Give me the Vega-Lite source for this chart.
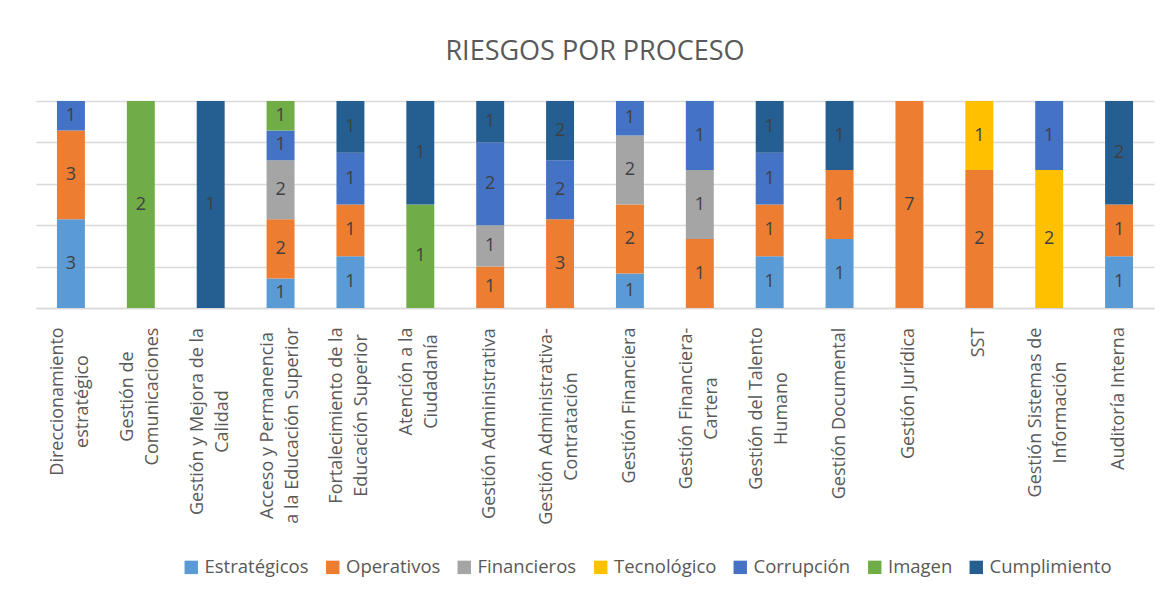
{
  "$schema": "https://vega.github.io/schema/vega-lite/v6.json",
  "width": 1118,
  "height": 207,
  "autosize": {"type": "none"},
  "padding": {"left": 36, "top": 101, "right": 18, "bottom": 290},
  "background": "white",
  "title": {
    "text": "RIESGOS POR PROCESO",
    "font": "Open Sans",
    "fontSize": 27,
    "fontWeight": "normal",
    "color": "#595959",
    "anchor": "middle",
    "offset": 35
  },
  "data": {
    "values": [
      {"proceso": "Direccionamiento estratégico", "tipo": "Estratégicos", "n": 3},
      {"proceso": "Direccionamiento estratégico", "tipo": "Operativos", "n": 3},
      {"proceso": "Direccionamiento estratégico", "tipo": "Corrupción", "n": 1},
      {"proceso": "Gestión de Comunicaciones", "tipo": "Imagen", "n": 2},
      {"proceso": "Gestión y Mejora de la Calidad", "tipo": "Cumplimiento", "n": 1},
      {"proceso": "Acceso y Permanencia a la Educación Superior", "tipo": "Estratégicos", "n": 1},
      {"proceso": "Acceso y Permanencia a la Educación Superior", "tipo": "Operativos", "n": 2},
      {"proceso": "Acceso y Permanencia a la Educación Superior", "tipo": "Financieros", "n": 2},
      {"proceso": "Acceso y Permanencia a la Educación Superior", "tipo": "Corrupción", "n": 1},
      {"proceso": "Acceso y Permanencia a la Educación Superior", "tipo": "Imagen", "n": 1},
      {"proceso": "Fortalecimiento de la Educación Superior", "tipo": "Estratégicos", "n": 1},
      {"proceso": "Fortalecimiento de la Educación Superior", "tipo": "Operativos", "n": 1},
      {"proceso": "Fortalecimiento de la Educación Superior", "tipo": "Corrupción", "n": 1},
      {"proceso": "Fortalecimiento de la Educación Superior", "tipo": "Cumplimiento", "n": 1},
      {"proceso": "Atención a la Ciudadanía", "tipo": "Imagen", "n": 1},
      {"proceso": "Atención a la Ciudadanía", "tipo": "Cumplimiento", "n": 1},
      {"proceso": "Gestión Administrativa", "tipo": "Operativos", "n": 1},
      {"proceso": "Gestión Administrativa", "tipo": "Financieros", "n": 1},
      {"proceso": "Gestión Administrativa", "tipo": "Corrupción", "n": 2},
      {"proceso": "Gestión Administrativa", "tipo": "Cumplimiento", "n": 1},
      {"proceso": "Gestión Administrativa-Contratación", "tipo": "Operativos", "n": 3},
      {"proceso": "Gestión Administrativa-Contratación", "tipo": "Corrupción", "n": 2},
      {"proceso": "Gestión Administrativa-Contratación", "tipo": "Cumplimiento", "n": 2},
      {"proceso": "Gestión Financiera", "tipo": "Estratégicos", "n": 1},
      {"proceso": "Gestión Financiera", "tipo": "Operativos", "n": 2},
      {"proceso": "Gestión Financiera", "tipo": "Financieros", "n": 2},
      {"proceso": "Gestión Financiera", "tipo": "Corrupción", "n": 1},
      {"proceso": "Gestión Financiera-Cartera", "tipo": "Operativos", "n": 1},
      {"proceso": "Gestión Financiera-Cartera", "tipo": "Financieros", "n": 1},
      {"proceso": "Gestión Financiera-Cartera", "tipo": "Corrupción", "n": 1},
      {"proceso": "Gestión del Talento Humano", "tipo": "Estratégicos", "n": 1},
      {"proceso": "Gestión del Talento Humano", "tipo": "Operativos", "n": 1},
      {"proceso": "Gestión del Talento Humano", "tipo": "Corrupción", "n": 1},
      {"proceso": "Gestión del Talento Humano", "tipo": "Cumplimiento", "n": 1},
      {"proceso": "Gestión Documental", "tipo": "Estratégicos", "n": 1},
      {"proceso": "Gestión Documental", "tipo": "Operativos", "n": 1},
      {"proceso": "Gestión Documental", "tipo": "Cumplimiento", "n": 1},
      {"proceso": "Gestión Jurídica", "tipo": "Operativos", "n": 7},
      {"proceso": "SST", "tipo": "Operativos", "n": 2},
      {"proceso": "SST", "tipo": "Tecnológico", "n": 1},
      {"proceso": "Gestión Sistemas de Información", "tipo": "Tecnológico", "n": 2},
      {"proceso": "Gestión Sistemas de Información", "tipo": "Corrupción", "n": 1},
      {"proceso": "Auditoría Interna", "tipo": "Estratégicos", "n": 1},
      {"proceso": "Auditoría Interna", "tipo": "Operativos", "n": 1},
      {"proceso": "Auditoría Interna", "tipo": "Cumplimiento", "n": 2}
    ]
  },
  "transform": [
    {"calculate": "indexof(['Estratégicos','Operativos','Financieros','Tecnológico','Corrupción','Imagen','Cumplimiento'], datum.tipo)", "as": "orden"},
    {"stack": "n", "groupby": ["proceso"], "sort": [{"field": "orden", "order": "ascending"}], "offset": "normalize", "as": ["y0", "y1"]},
    {"calculate": "(datum.y0 + datum.y1) / 2", "as": "ymid"}
  ],
  "encoding": {
    "x": {
      "field": "proceso",
      "type": "nominal",
      "sort": ["Direccionamiento estratégico", "Gestión de Comunicaciones", "Gestión y Mejora de la Calidad", "Acceso y Permanencia a la Educación Superior", "Fortalecimiento de la Educación Superior", "Atención a la Ciudadanía", "Gestión Administrativa", "Gestión Administrativa-Contratación", "Gestión Financiera", "Gestión Financiera-Cartera", "Gestión del Talento Humano", "Gestión Documental", "Gestión Jurídica", "SST", "Gestión Sistemas de Información", "Auditoría Interna"],
      "scale": {"paddingInner": 0.6, "paddingOuter": 0.3},
      "axis": {
        "title": null,
        "ticks": false,
        "domain": true,
        "domainColor": "#D9D9D9",
        "domainWidth": 1.5,
        "labelAngle": -90,
        "labelAlign": "center",
        "labelBaseline": "middle",
        "labelPadding": {
          "condition": [
            {"test": "datum.value == 'Direccionamiento estratégico'", "value": 93},
            {"test": "datum.value == 'Gestión de Comunicaciones'", "value": 88},
            {"test": "datum.value == 'Gestión y Mejora de la Calidad'", "value": 113},
            {"test": "datum.value == 'Acceso y Permanencia a la Educación Superior'", "value": 117},
            {"test": "datum.value == 'Fortalecimiento de la Educación Superior'", "value": 107},
            {"test": "datum.value == 'Atención a la Ciudadanía'", "value": 73},
            {"test": "datum.value == 'Gestión Administrativa'", "value": 115},
            {"test": "datum.value == 'Gestión Administrativa-Contratación'", "value": 118},
            {"test": "datum.value == 'Gestión Financiera'", "value": 97},
            {"test": "datum.value == 'Gestión Financiera-Cartera'", "value": 100},
            {"test": "datum.value == 'Gestión del Talento Humano'", "value": 100},
            {"test": "datum.value == 'Gestión Documental'", "value": 105},
            {"test": "datum.value == 'Gestión Jurídica'", "value": 85},
            {"test": "datum.value == 'SST'", "value": 34},
            {"test": "datum.value == 'Gestión Sistemas de Información'", "value": 104},
            {"test": "datum.value == 'Auditoría Interna'", "value": 90}
          ],
          "value": 19
        },
        "labelFont": "Open Sans",
        "labelFontSize": 18,
        "labelColor": "#595959",
        "labelLineHeight": 25,
        "labelLimit": 0,
        "labelOffset": {
          "condition": {"test": "indexof(['Gestión Administrativa','Gestión Financiera','Gestión Documental','Gestión Jurídica','SST','Auditoría Interna'], datum.value) < 0", "value": -13},
          "value": 0
        },
        "labelExpr": "{'Direccionamiento estratégico':['Direccionamiento','estratégico'],'Gestión de Comunicaciones':['Gestión de','Comunicaciones'],'Gestión y Mejora de la Calidad':['Gestión y Mejora de la','Calidad'],'Acceso y Permanencia a la Educación Superior':['Acceso y Permanencia','a la Educación Superior'],'Fortalecimiento de la Educación Superior':['Fortalecimiento de la','Educación Superior'],'Atención a la Ciudadanía':['Atención a la','Ciudadanía'],'Gestión Administrativa-Contratación':['Gestión Administrativa-','Contratación'],'Gestión Financiera-Cartera':['Gestión Financiera-','Cartera'],'Gestión del Talento Humano':['Gestión del Talento','Humano'],'Gestión Sistemas de Información':['Gestión Sistemas de','Información']}[datum.value] || datum.value"
      }
    }
  },
  "layer": [
    {
      "mark": {"type": "bar"},
      "encoding": {
        "y": {
          "field": "y0",
          "type": "quantitative",
          "scale": {"domain": [0, 1], "nice": false},
          "axis": {
            "title": null,
            "labels": false,
            "ticks": false,
            "domain": false,
            "grid": true,
            "gridColor": "#D9D9D9",
            "gridWidth": 1.5,
            "values": [0, 0.1, 0.2, 0.3, 0.4, 0.5, 0.6, 0.7, 0.8, 0.9, 1]
          }
        },
        "y2": {"field": "y1"},
        "color": {
          "field": "tipo",
          "type": "nominal",
          "sort": ["Estratégicos", "Operativos", "Financieros", "Tecnológico", "Corrupción", "Imagen", "Cumplimiento"],
          "scale": {
            "domain": ["Estratégicos", "Operativos", "Financieros", "Tecnológico", "Corrupción", "Imagen", "Cumplimiento"],
            "range": ["#5B9BD5", "#ED7D31", "#A5A5A5", "#FFC000", "#4472C4", "#70AD47", "#255E91"]
          },
          "legend": {
            "title": null,
            "orient": "none",
            "direction": "horizontal",
            "legendX": 146,
            "legendY": 457,
            "symbolType": "square",
            "symbolSize": 180,
            "symbolStrokeWidth": 0,
            "labelFont": "Open Sans",
            "labelFontSize": 18.5,
            "labelColor": "#595959",
            "labelOffset": 4,
            "columnPadding": 14.5,
            "labelLimit": 0
          }
        }
      }
    },
    {
      "mark": {"type": "text", "font": "Open Sans", "fontSize": 18, "color": "#404040", "baseline": "middle", "align": "center"},
      "encoding": {
        "y": {"field": "ymid", "type": "quantitative"},
        "text": {"field": "n", "type": "quantitative"}
      }
    }
  ],
  "config": {
    "view": {"stroke": null}
  }
}
